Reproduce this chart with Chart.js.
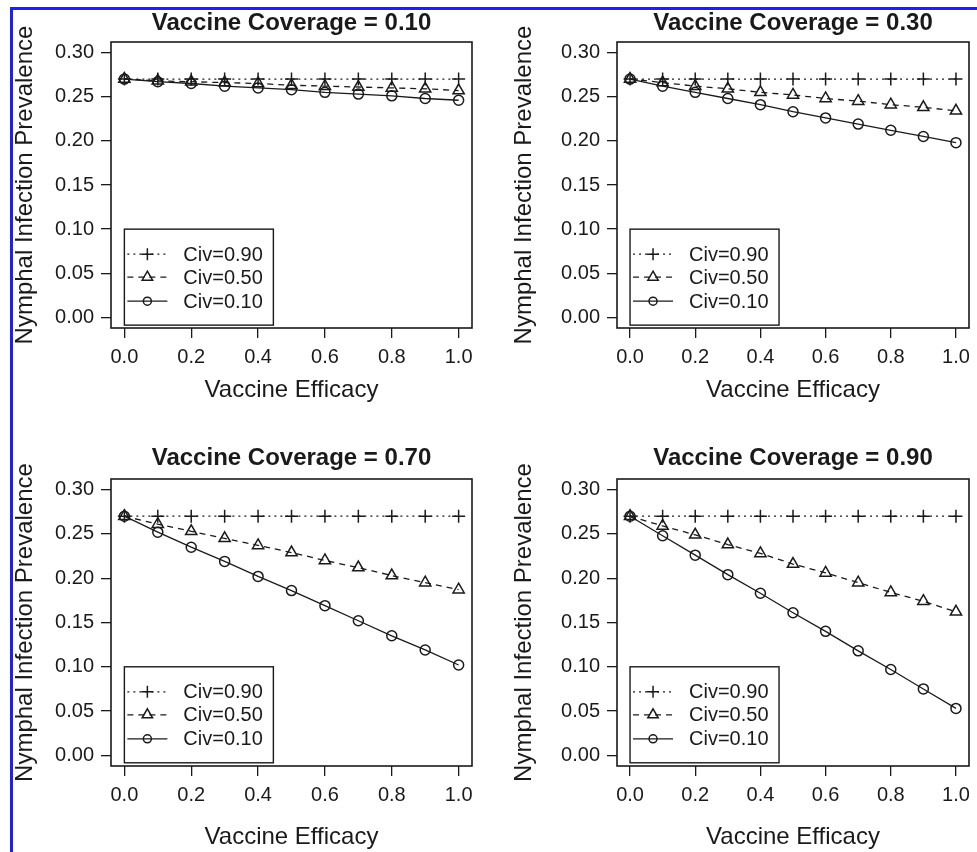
<!DOCTYPE html>
<html>
<head>
<meta charset="utf-8">
<title>Vaccine Coverage</title>
<script src="https://cdn.jsdelivr.net/npm/chart.js@4/dist/chart.umd.min.js"></script>
<style>
  html, body { margin: 0; padding: 0; background: #fff; overflow: hidden; }
  #wrap { position: relative; width: 977px; height: 852px; }
  canvas { position: absolute; }
  .frame { position: absolute; background: #1f1ff5; }
</style>
</head>
<body>
<div id="wrap">
  <canvas id="c1"></canvas>
  <canvas id="c2"></canvas>
  <canvas id="c3"></canvas>
  <canvas id="c4"></canvas>
  <div class="frame" style="left:10px;top:7px;width:967px;height:3px"></div>
  <div class="frame" style="left:10px;top:7px;width:3px;height:845px"></div>
</div>
<script>
// values
var efficacy = [0, 0.1, 0.2, 0.3, 0.4, 0.5, 0.6, 0.7, 0.8, 0.9, 1.0];
var coverage = ["0.10", "0.30", "0.70", "0.90"];
var civLabels = ["Civ=0.90", "Civ=0.50", "Civ=0.10"];

var xTicks = [0, 0.2, 0.4, 0.6, 0.8, 1.0];
var xTickLabels = ["0.0", "0.2", "0.4", "0.6", "0.8", "1.0"];
var yTicks = [0, 0.05, 0.10, 0.15, 0.20, 0.25, 0.30];
var yTickLabels = ["0.00", "0.05", "0.10", "0.15", "0.20", "0.25", "0.30"];

// coverage 0.10
var cov10civ90 = [0.270, 0.270, 0.270, 0.270, 0.270, 0.270, 0.270, 0.270, 0.270, 0.270, 0.270];
var cov10civ50 = [0.270, 0.268, 0.267, 0.266, 0.265, 0.263, 0.262, 0.261, 0.260, 0.259, 0.257];
var cov10civ10 = [0.270, 0.267, 0.265, 0.262, 0.260, 0.258, 0.255, 0.253, 0.251, 0.248, 0.246];
// coverage 0.30
var cov30civ90 = [0.270, 0.270, 0.270, 0.270, 0.270, 0.270, 0.270, 0.270, 0.270, 0.270, 0.270];
var cov30civ50 = [0.270, 0.266, 0.262, 0.259, 0.255, 0.252, 0.248, 0.245, 0.241, 0.238, 0.234];
var cov30civ10 = [0.270, 0.262, 0.255, 0.248, 0.241, 0.233, 0.226, 0.219, 0.212, 0.205, 0.198];
// coverage 0.70
var cov70civ90 = [0.270, 0.270, 0.270, 0.270, 0.270, 0.270, 0.270, 0.270, 0.270, 0.270, 0.270];
var cov70civ50 = [0.270, 0.261, 0.253, 0.245, 0.237, 0.229, 0.220, 0.212, 0.203, 0.195, 0.187];
var cov70civ10 = [0.270, 0.252, 0.235, 0.219, 0.202, 0.186, 0.169, 0.152, 0.135, 0.119, 0.102];
// coverage 0.90
var cov90civ90 = [0.270, 0.270, 0.270, 0.270, 0.270, 0.270, 0.270, 0.270, 0.270, 0.270, 0.270];
var cov90civ50 = [0.270, 0.259, 0.249, 0.238, 0.228, 0.216, 0.206, 0.195, 0.184, 0.174, 0.162];
var cov90civ10 = [0.270, 0.248, 0.226, 0.204, 0.183, 0.161, 0.140, 0.118, 0.097, 0.075, 0.053];

var panelSeries = [
    [cov10civ90, cov10civ50, cov10civ10],
    [cov30civ90, cov30civ50, cov30civ10],
    [cov70civ90, cov70civ50, cov70civ10],
    [cov90civ90, cov90civ50, cov90civ10]
];

// where each panel sits on the page (pixels)
var panels = [
    {id: "c1", left: 0,   top: 0,   w: 488, h: 426, plotL: 111, plotR: 472, plotT: 42, plotB: 328, titleY: 23, xTitleY: 390, yTitleX: 25},
    {id: "c2", left: 488, top: 0,   w: 489, h: 426, plotL: 129, plotR: 488, plotT: 42, plotB: 328, titleY: 23, xTitleY: 390, yTitleX: 36},
    {id: "c3", left: 0,   top: 426, w: 488, h: 426, plotL: 111, plotR: 472, plotT: 53, plotB: 340, titleY: 32, xTitleY: 411, yTitleX: 25},
    {id: "c4", left: 488, top: 426, w: 489, h: 426, plotL: 129, plotR: 488, plotT: 53, plotB: 340, titleY: 32, xTitleY: 411, yTitleX: 36}
];

var ink = "#1a1a1a";
var seriesStyle = [
    {dash: [2, 4], point: "cross", radius: 6.5},
    {dash: [6, 5], point: "triangle", radius: 6.5},
    {dash: [], point: "circle", radius: 5}
];

Chart.defaults.font.family = "'Liberation Sans', Arial, Helvetica, sans-serif";
Chart.defaults.color = ink;

function drawMarker(ctx, style, x, y, r) {
    ctx.beginPath();
    if (style == "cross") {
        ctx.moveTo(x - r, y); ctx.lineTo(x + r, y);
        ctx.moveTo(x, y - r); ctx.lineTo(x, y + r);
    } else if (style == "triangle") {
        var s = r * Math.sqrt(3) / 2;
        ctx.moveTo(x, y - r);
        ctx.lineTo(x + s, y + r / 2);
        ctx.lineTo(x - s, y + r / 2);
        ctx.closePath();
    } else {
        ctx.arc(x, y, r, 0, Math.PI * 2);
    }
    ctx.stroke();
}

// frame around the plot and the legend box in the lower left
var boxPlugin = {
    id: "boxLegend",
    afterDatasetsDraw: function(chart) {
        var ctx = chart.ctx;
        var a = chart.chartArea;
        ctx.save();
        ctx.strokeStyle = ink;
        ctx.lineWidth = 1.6;
        ctx.setLineDash([]);
        ctx.strokeRect(a.left, a.top, a.right - a.left, a.bottom - a.top);

        var lx = chart.scales.x.getPixelForValue(0);
        var ly = chart.scales.y.getPixelForValue(0.10);
        ctx.fillStyle = "#fff";
        ctx.fillRect(lx, ly, 149, 96);
        ctx.lineWidth = 1.4;
        ctx.strokeRect(lx, ly, 149, 96);

        var rows = [25, 48, 72];
        ctx.font = "20px 'Liberation Sans', Arial, sans-serif";
        ctx.textBaseline = "middle";
        ctx.textAlign = "left";
        for (var i = 0; i < 3; i++) {
            var yy = ly + rows[i];
            var st = seriesStyle[i];
            ctx.lineWidth = 1.3;
            ctx.setLineDash(st.dash);
            ctx.beginPath();
            ctx.moveTo(lx + 3, yy);
            ctx.lineTo(lx + 43, yy);
            ctx.stroke();
            ctx.setLineDash([]);
            ctx.lineWidth = 1.5;
            drawMarker(ctx, st.point, lx + 23, yy, st.point == "circle" ? 4 : 6);
            ctx.fillStyle = ink;
            ctx.fillText(civLabels[i], lx + 59, yy + 1);
        }
        ctx.restore();
    }
};

function makePanel(p, k) {
    var canvas = document.getElementById(p.id);
    canvas.width = p.w;
    canvas.height = p.h;
    canvas.style.left = p.left + "px";
    canvas.style.top = p.top + "px";

    var half = 24 * 1.2 / 2;
    var padL = p.yTitleX - half;
    var yWidth = p.plotL - padL;
    var xHeight = p.h - p.plotB;
    var titleTop = p.titleY - half;
    var titleBottom = p.plotT - 2 * half - titleTop;

    var datasets = [];
    for (var i = 0; i < 3; i++) {
        var vals = panelSeries[k][i];
        var st = seriesStyle[i];
        datasets.push({
            label: civLabels[i],
            data: efficacy.map(function(e, j) { return {x: e, y: vals[j]}; }),
            borderColor: ink,
            borderWidth: 1.3,
            borderDash: st.dash,
            pointStyle: st.point,
            pointRadius: st.radius,
            pointBorderWidth: 1.5,
            pointBorderColor: ink,
            pointBackgroundColor: "rgba(0,0,0,0)",
            fill: false,
            tension: 0
        });
    }

    new Chart(canvas.getContext("2d"), {
        type: "line",
        data: {datasets: datasets},
        plugins: [boxPlugin],
        options: {
            responsive: false,
            animation: false,
            devicePixelRatio: 1,
            layout: {padding: {left: padL, right: p.w - p.plotR, top: 0, bottom: 0}},
            plugins: {
                legend: {display: false},
                tooltip: {enabled: false},
                title: {
                    display: true,
                    fullSize: false,
                    text: "Vaccine Coverage = " + coverage[k],
                    color: ink,
                    font: {size: 24, weight: "bold"},
                    padding: {top: titleTop, bottom: titleBottom}
                }
            },
            scales: {
                x: {
                    type: "linear",
                    min: -0.04,
                    max: 1.04,
                    afterBuildTicks: function(s) { s.ticks = xTicks.map(function(v) { return {value: v}; }); },
                    afterFit: function(s) { s.height = xHeight; s.paddingLeft = 0; s.paddingRight = 0; },
                    ticks: {
                        autoSkip: false,
                        maxRotation: 0,
                        padding: 7,
                        color: ink,
                        font: {size: 20},
                        callback: function(v, i) { return xTickLabels[i]; }
                    },
                    grid: {drawOnChartArea: false, tickLength: 10, color: ink, lineWidth: 1.3},
                    border: {display: false},
                    title: {
                        display: true,
                        text: "Vaccine Efficacy",
                        color: ink,
                        font: {size: 24},
                        padding: {top: 0, bottom: p.h - half - p.xTitleY}
                    }
                },
                y: {
                    type: "linear",
                    min: -0.012,
                    max: 0.312,
                    afterBuildTicks: function(s) { s.ticks = yTicks.map(function(v) { return {value: v}; }); },
                    afterFit: function(s) { s.width = yWidth; s.paddingTop = 0; s.paddingBottom = 0; },
                    ticks: {
                        autoSkip: false,
                        padding: 7,
                        color: ink,
                        font: {size: 20},
                        callback: function(v, i) { return yTickLabels[i]; }
                    },
                    grid: {drawOnChartArea: false, tickLength: 10, color: ink, lineWidth: 1.3},
                    border: {display: false},
                    title: {
                        display: true,
                        text: "Nymphal Infection Prevalence",
                        color: ink,
                        font: {size: 24},
                        padding: {top: 0, bottom: 0}
                    }
                }
            }
        }
    });
}

panels.forEach(function(p, k) { makePanel(p, k); });
</script>
</body>
</html>
